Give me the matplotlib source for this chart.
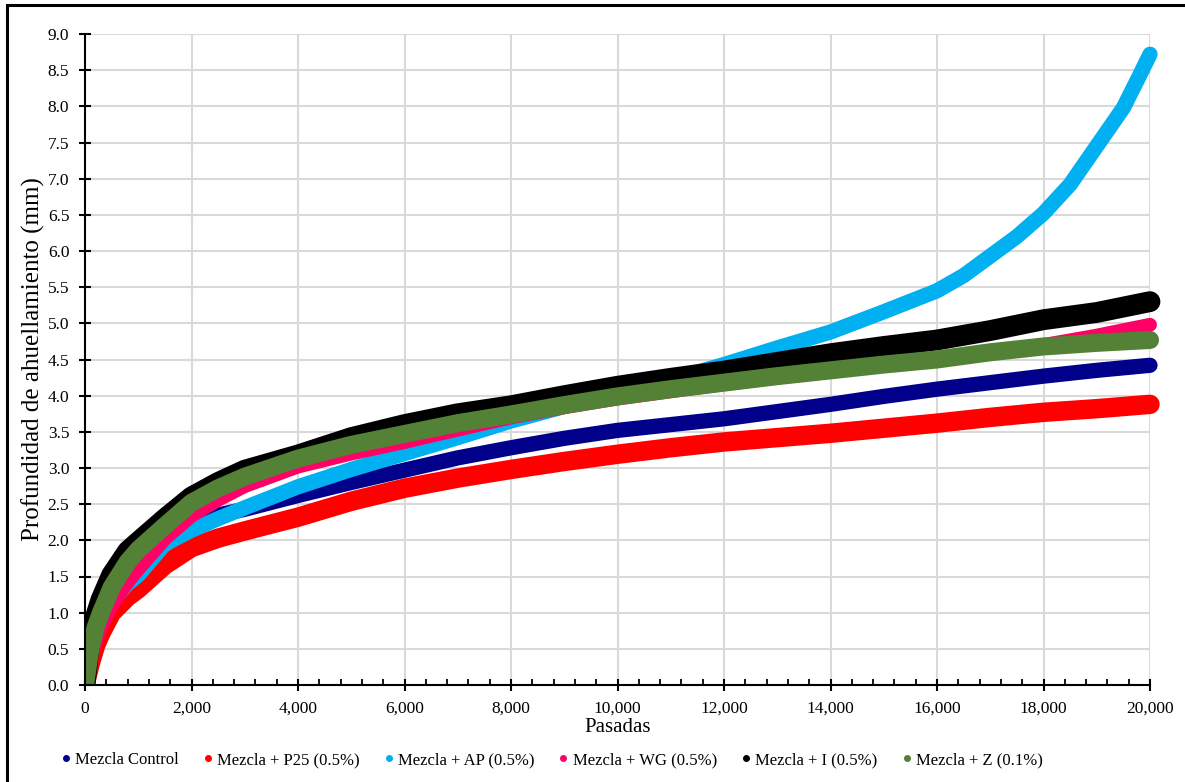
import matplotlib
matplotlib.use("Agg")
import matplotlib.pyplot as plt
from matplotlib.lines import Line2D
from matplotlib.patches import Rectangle
from matplotlib.ticker import MultipleLocator, FuncFormatter

plt.rcParams['font.family'] = ['Liberation Serif', 'DejaVu Serif']

pasadas = [0, 100, 200, 300, 500, 800, 1000, 1500, 2000, 2500, 3000, 4000,
           5000, 6000, 7000, 8000, 9000, 10000, 11000, 12000, 13000, 14000,
           15000, 16000, 17000, 18000, 19000, 20000]

control = [0, 0.40, 0.65, 0.85, 1.15, 1.50, 1.65, 1.98, 2.22, 2.35, 2.43, 2.62,
           2.80, 2.97, 3.14, 3.28, 3.41, 3.52, 3.60, 3.68, 3.78, 3.88,
           3.99, 4.09, 4.18, 4.27, 4.35, 4.42]
p25 = [0, 0.30, 0.55, 0.72, 1.00, 1.22, 1.33, 1.66, 1.90, 2.03, 2.13, 2.32,
       2.54, 2.72, 2.86, 2.98, 3.09, 3.19, 3.28, 3.36, 3.42, 3.48,
       3.55, 3.62, 3.70, 3.77, 3.82, 3.88]
wg = [0, 0.35, 0.60, 0.80, 1.10, 1.42, 1.60, 2.02, 2.34, 2.56, 2.75, 3.02,
      3.20, 3.36, 3.53, 3.70, 3.84, 3.96, 4.06, 4.16, 4.25, 4.33,
      4.42, 4.50, 4.60, 4.70, 4.83, 4.98]
mezcla_i = [0, 0.70, 0.95, 1.18, 1.52, 1.85, 1.98, 2.30, 2.60, 2.80, 2.97, 3.18,
            3.42, 3.60, 3.75, 3.86, 4.00, 4.13, 4.24, 4.34, 4.46, 4.58,
            4.68, 4.77, 4.90, 5.05, 5.15, 5.30]
mezcla_z = [0, 0.50, 0.80, 1.00, 1.35, 1.70, 1.87, 2.20, 2.52, 2.72, 2.88, 3.13,
            3.32, 3.47, 3.62, 3.74, 3.87, 3.99, 4.09, 4.18, 4.27, 4.35,
            4.43, 4.50, 4.60, 4.68, 4.73, 4.77]

# AP curve climbs fast at the end, so it was read at more points
pasadas_ap = [0, 100, 200, 300, 500, 800, 1000, 1500, 2000, 2500, 3000, 4000,
              5000, 6000, 7000, 8000, 9000, 10000, 11000, 12000, 13000, 14000,
              15000, 16000, 16500, 17000, 17500, 18000, 18500, 19000, 19500,
              19800, 20000]
ap = [0, 0.40, 0.65, 0.85, 1.15, 1.40, 1.52, 1.95, 2.14, 2.30, 2.45, 2.74,
      2.98, 3.20, 3.42, 3.65, 3.85, 4.03, 4.22, 4.43, 4.66, 4.88,
      5.16, 5.45, 5.66, 5.93, 6.20, 6.52, 6.92, 7.45, 7.98, 8.42, 8.72]

labels = ['Mezcla Control', 'Mezcla + P25 (0.5%)', 'Mezcla + AP (0.5%)',
          'Mezcla + WG (0.5%)', 'Mezcla + I (0.5%)', 'Mezcla + Z (0.1%)']
colors = ['#00008b', '#ff0000', '#00b0f0', '#ff0066', '#000000', '#538135']

fig = plt.figure(figsize=(11.85, 7.82), dpi=100)
ax = fig.add_axes([85 / 1185, 1 - 685 / 782, 1065 / 1185, 651 / 782])

series = [(pasadas, control, 11), (pasadas, p25, 14), (pasadas_ap, ap, 11),
          (pasadas, wg, 10), (pasadas, mezcla_i, 15), (pasadas, mezcla_z, 13)]
for (xs, ys, lw), c in zip(series, colors):
    ln, = ax.plot(xs, ys, color=c, lw=lw, solid_capstyle='round',
                  solid_joinstyle='round', zorder=3)
    # clip at the axes on the left/bottom, let the ends spill past 20,000
    ln.set_clip_path(Rectangle((0, 0), 20400, 9.2, transform=ax.transData))

ax.set_xlim(0, 20000)
ax.set_ylim(0, 9)
ax.xaxis.set_major_locator(MultipleLocator(2000))
ax.xaxis.set_minor_locator(MultipleLocator(400))
ax.yaxis.set_major_locator(MultipleLocator(0.5))
ax.xaxis.set_major_formatter(FuncFormatter(lambda v, p: f'{int(v):,}'))
ax.yaxis.set_major_formatter(FuncFormatter(lambda v, p: f'{v:.1f}'))

ax.grid(True, which='major', color='#d9d9d9', lw=1.5, zorder=0)
ax.set_axisbelow(True)
for s in ['top', 'right']:
    ax.spines[s].set_visible(False)
for s in ['left', 'bottom']:
    ax.spines[s].set_linewidth(1.5)
    ax.spines[s].set_zorder(4)

ax.tick_params(which='major', direction='inout', length=8.6, width=1.5,
               labelsize=12.5, pad=7)
ax.tick_params(axis='x', which='minor', direction='in', length=4.5, width=1.3)

ax.set_xlabel('Pasadas', fontsize=15)
ax.xaxis.set_label_coords(0.5, -0.05)
ax.set_ylabel('Profundidad de ahuellamiento (mm)', fontsize=18, va='center')
ax.yaxis.set_label_coords(-0.049, 0.5)

handles = [Line2D([], [], ls='', marker='o', ms=4, color=c, label=l)
           for c, l in zip(colors, labels)]
fig.legend(handles=handles, loc='center', ncol=6, frameon=False,
           bbox_to_anchor=(552 / 1185, 1 - 760 / 782), fontsize=12,
           handlelength=0.5, handletextpad=0.3, columnspacing=1.5)

# outer frame of the pasted chart
fig.patches.append(Rectangle((6.5 / 1185, -0.05), 1.2, 1.05 - 5 / 782,
                             transform=fig.transFigure, fill=False,
                             ec='black', lw=2.2))

fig.savefig('out.png', dpi=100)
